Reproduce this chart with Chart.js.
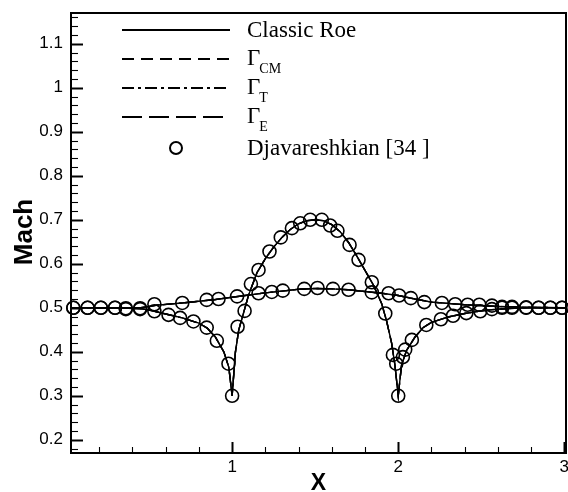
<!DOCTYPE html>
<html>
<head>
<meta charset="utf-8">
<script src="https://cdn.jsdelivr.net/npm/chart.js@4"></script>
<style>
  body { margin: 0; background: #fff; }
  canvas { display: block; }
</style>
</head>
<body>
<canvas id="machChart" width="568" height="492"></canvas>
<script>
// Line results (all four schemes collapse onto the same curves)
const lineLowerX = [0.03, 0.3, 0.45, 0.5, 0.6, 0.7, 0.8, 0.85, 0.9, 0.95, 0.98, 1.0, 1.02, 1.04, 1.07, 1.1, 1.15, 1.2, 1.25, 1.3, 1.35, 1.4, 1.45, 1.5, 1.55, 1.6, 1.65, 1.7, 1.75, 1.8, 1.85, 1.9, 1.93, 1.96, 1.98, 2.0, 2.02, 2.05, 2.1, 2.15, 2.2, 2.3, 2.4, 2.5, 2.6, 2.7, 2.8, 3.01];
const lineLowerY = [0.5, 0.5, 0.498, 0.495, 0.486, 0.477, 0.465, 0.454, 0.433, 0.4, 0.365, 0.3, 0.4, 0.45, 0.49, 0.53, 0.58, 0.612, 0.638, 0.66, 0.678, 0.691, 0.698, 0.7, 0.698, 0.689, 0.673, 0.649, 0.618, 0.585, 0.552, 0.51, 0.47, 0.42, 0.37, 0.3, 0.37, 0.403, 0.433, 0.455, 0.467, 0.479, 0.487, 0.493, 0.497, 0.499, 0.5, 0.5];

const lineUpperX = [0.03, 0.3, 0.45, 0.55, 0.7, 0.9, 1.0, 1.1, 1.2, 1.3, 1.4, 1.5, 1.6, 1.7, 1.8, 1.9, 2.0, 2.1, 2.2, 2.3, 2.4, 2.6, 2.8, 3.01];
const lineUpperY = [0.5, 0.5, 0.5, 0.506, 0.511, 0.519, 0.524, 0.529, 0.534, 0.538, 0.542, 0.544, 0.543, 0.541, 0.537, 0.533, 0.528, 0.52, 0.513, 0.51, 0.507, 0.503, 0.501, 0.5];

// Djavareshkian [34] symbols
const refLowerX = [0.044, 0.13, 0.21, 0.295, 0.36, 0.446, 0.532, 0.617, 0.687, 0.767, 0.847, 0.908, 0.978, 1.0, 1.033, 1.075, 1.113, 1.159, 1.225, 1.293, 1.36, 1.41, 1.47, 1.54, 1.59, 1.634, 1.707, 1.761, 1.841, 1.922, 1.968, 1.988, 2.0, 2.028, 2.042, 2.082, 2.169, 2.257, 2.33, 2.41, 2.494, 2.564, 2.625, 2.685, 2.77, 2.845, 2.916, 2.986];
const refLowerY = [0.5, 0.5, 0.5, 0.5, 0.497, 0.497, 0.492, 0.484, 0.477, 0.469, 0.455, 0.425, 0.373, 0.3, 0.457, 0.493, 0.554, 0.586, 0.628, 0.66, 0.681, 0.692, 0.7, 0.7, 0.687, 0.675, 0.643, 0.609, 0.558, 0.487, 0.393, 0.373, 0.3, 0.388, 0.405, 0.427, 0.461, 0.474, 0.482, 0.488, 0.492, 0.497, 0.5, 0.5, 0.5, 0.5, 0.5, 0.5];

const refUpperX = [0.044, 0.13, 0.21, 0.295, 0.36, 0.446, 0.532, 0.7, 0.847, 0.918, 1.03, 1.159, 1.239, 1.305, 1.434, 1.514, 1.607, 1.701, 1.841, 1.942, 2.005, 2.076, 2.157, 2.263, 2.343, 2.418, 2.488, 2.564, 2.625, 2.685, 2.77, 2.845, 2.916, 2.986];
const refUpperY = [0.5, 0.5, 0.5, 0.5, 0.499, 0.499, 0.508, 0.511, 0.518, 0.52, 0.526, 0.533, 0.536, 0.539, 0.543, 0.545, 0.543, 0.541, 0.535, 0.533, 0.528, 0.522, 0.513, 0.511, 0.508, 0.507, 0.507, 0.505, 0.502, 0.502, 0.501, 0.5, 0.5, 0.5];

const xMajorTicks = [1, 2, 3];
const yMajorTicks = [0.2, 0.3, 0.4, 0.5, 0.6, 0.7, 0.8, 0.9, 1.0, 1.1];
const xTickLabels = ["1", "2", "3"];
const yTickLabels = ["0.2", "0.3", "0.4", "0.5", "0.6", "0.7", "0.8", "0.9", "1", "1.1"];

const schemes = [
  { label: "Classic Roe", sub: "", dash: [] },
  { label: "\u0393", sub: "CM", dash: [12, 7] },
  { label: "\u0393", sub: "T", dash: [12, 4, 3, 4] },
  { label: "\u0393", sub: "E", dash: [20, 7] },
];
const refLabel = "Djavareshkian [34 ]";

const X_MIN = 0.03, X_MAX = 3.01, Y_MIN = 0.17, Y_MAX = 1.17;

function toPoints(xs, ys) {
  return xs.map((x, i) => ({ x: x, y: ys[i] }));
}

const datasets = [];
schemes.forEach((s) => {
  [[lineLowerX, lineLowerY], [lineUpperX, lineUpperY]].forEach(([xs, ys]) => {
    datasets.push({
      type: "line",
      label: s.label + s.sub,
      data: toPoints(xs, ys),
      borderColor: "#000",
      borderWidth: 1.4,
      borderDash: s.dash,
      pointRadius: 0,
      tension: 0,
      fill: false,
    });
  });
});
datasets.push({
  type: "scatter",
  label: refLabel,
  data: toPoints(refLowerX, refLowerY).concat(toPoints(refUpperX, refUpperY)),
  pointStyle: "circle",
  pointRadius: 6.5,
  pointBorderWidth: 1.6,
  borderColor: "#000",
  backgroundColor: "rgba(0,0,0,0)",
  clip: false,
});

function minorValues(min, max, step) {
  const out = [];
  const start = Math.ceil(min / step - 1e-9);
  for (let k = start; k * step <= max + 1e-9; k++) out.push(+(k * step).toFixed(4));
  return out;
}

const SANS = "'Liberation Sans', Arial, sans-serif";
const SERIF = "'Liberation Serif', 'Times New Roman', serif";

const framePlugin = {
  id: "frame",
  afterDraw(chart) {
    const ctx = chart.ctx;
    const a = chart.chartArea;
    const xs = chart.scales.x;
    const ys = chart.scales.y;
    ctx.save();
    ctx.strokeStyle = "#000";
    ctx.fillStyle = "#000";
    ctx.setLineDash([]);

    // inward ticks
    minorValues(X_MIN, X_MAX, 0.2).forEach((v) => {
      const major = xMajorTicks.some((m) => Math.abs(m - v) < 1e-6);
      const px = Math.round(xs.getPixelForValue(v)) + 0.5;
      ctx.lineWidth = major ? 2 : 1.1;
      ctx.beginPath();
      ctx.moveTo(px, a.bottom);
      ctx.lineTo(px, a.bottom - (major ? 11 : 6));
      ctx.stroke();
    });
    minorValues(Y_MIN, Y_MAX, 0.02).forEach((v) => {
      const major = yMajorTicks.some((m) => Math.abs(m - v) < 1e-6);
      const py = Math.round(ys.getPixelForValue(v)) + 0.5;
      ctx.lineWidth = major ? 2 : 1.1;
      ctx.beginPath();
      ctx.moveTo(a.left, py);
      ctx.lineTo(a.left + (major ? 12 : 7), py);
      ctx.stroke();
    });

    // x tick labels
    ctx.font = "17px " + SANS;
    ctx.textAlign = "center";
    ctx.textBaseline = "top";
    xMajorTicks.forEach((v, i) => {
      ctx.fillText(xTickLabels[i], xs.getPixelForValue(v), a.bottom + 6);
    });

    // frame
    ctx.lineWidth = 2;
    ctx.strokeRect(a.left, a.top, a.right - a.left, a.bottom - a.top);

    // axis titles
    ctx.font = "bold 26px " + SANS;
    ctx.textAlign = "center";
    ctx.textBaseline = "alphabetic";
    ctx.save();
    ctx.translate(32, 232);
    ctx.rotate(-Math.PI / 2);
    ctx.fillText("Mach", 0, 0);
    ctx.restore();
    ctx.font = "bold 23px " + SANS;
    ctx.fillText("X", (a.left + a.right) / 2, 490);

    // legend
    const rows = [30, 59, 88, 117];
    const x0 = 122, x1 = 230, tx = 247;
    schemes.forEach((s, i) => {
      const y = rows[i];
      ctx.lineWidth = 2;
      ctx.setLineDash(s.dash);
      ctx.beginPath();
      ctx.moveTo(x0, y);
      ctx.lineTo(x1, y);
      ctx.stroke();
      ctx.setLineDash([]);
      ctx.textAlign = "left";
      ctx.font = "23px " + SERIF;
      if (s.sub) {
        ctx.fillText(s.label, tx, y + 6);
        const w = ctx.measureText(s.label).width;
        ctx.font = "14px " + SERIF;
        ctx.fillText(s.sub, tx + w - 1, y + 14);
      } else {
        ctx.fillText(s.label, tx, y + 7);
      }
    });
    const ry = 148;
    ctx.lineWidth = 2;
    ctx.beginPath();
    ctx.arc(176, ry, 6, 0, Math.PI * 2);
    ctx.stroke();
    ctx.font = "23px " + SERIF;
    ctx.fillText(refLabel, tx, ry + 7);
    ctx.restore();
  },
};

function noPad(scale) {
  scale.paddingTop = 0;
  scale.paddingBottom = 0;
  scale.paddingLeft = 0;
  scale.paddingRight = 0;
}

new Chart(document.getElementById("machChart").getContext("2d"), {
  type: "scatter",
  data: { datasets: datasets },
  options: {
    responsive: false,
    animation: false,
    layout: { autoPadding: false, padding: { left: 0, top: 13, right: 2, bottom: 0 } },
    plugins: { legend: { display: false }, tooltip: { enabled: false } },
    scales: {
      x: {
        type: "linear",
        min: X_MIN,
        max: X_MAX,
        border: { display: false },
        grid: { display: false, drawTicks: false },
        afterBuildTicks: (s) => { s.ticks = xMajorTicks.map((v) => ({ value: v })); },
        afterFit: (s) => { s.height = 39; noPad(s); },
        ticks: { display: false, padding: 0 },
      },
      y: {
        type: "linear",
        min: Y_MIN,
        max: Y_MAX,
        border: { display: false },
        grid: { display: false, drawTicks: true, tickLength: 4 },
        afterBuildTicks: (s) => { s.ticks = yMajorTicks.map((v) => ({ value: v })); },
        afterFit: (s) => { s.width = 71; noPad(s); },
        ticks: {
          padding: 4,
          color: "#000",
          font: { family: SANS, size: 17 },
          callback: (v) => yTickLabels[yMajorTicks.findIndex((m) => Math.abs(m - v) < 1e-6)],
        },
      },
    },
  },
  plugins: [framePlugin],
});
</script>
</body>
</html>
